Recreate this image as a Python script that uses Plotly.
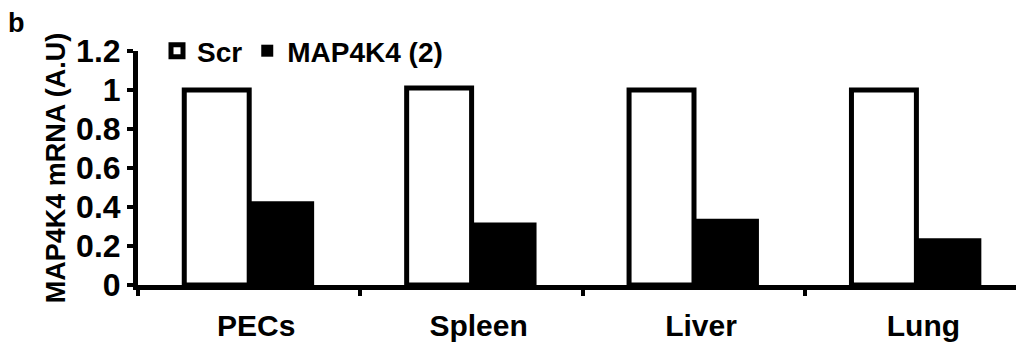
import plotly.graph_objects as go

categories = ["PECs", "Spleen", "Liver", "Lung"]
scr_values = [1.0, 1.01, 1.0, 1.0]
map4k4_values = [0.43, 0.32, 0.34, 0.24]
series_names = ["Scr", "MAP4K4 (2)"]
y_ticks = [0, 0.2, 0.4, 0.6, 0.8, 1, 1.2]
y_tick_text = ["0", "0.2", "0.4", "0.6", "0.8", "1", "1.2"]

FONT = "Arial, 'Liberation Sans', sans-serif"

fig = go.Figure()
fig.add_trace(go.Bar(
    x=categories, y=scr_values, name=series_names[0],
    marker=dict(color="white", line=dict(color="black", width=5)),
))
fig.add_trace(go.Bar(
    x=categories, y=map4k4_values, name=series_names[1],
    marker=dict(color="black", line=dict(color="black", width=0)),
))

W, H = 1016, 345
L, R, T, B = 138, 0, 51, 60

fig.update_layout(
    width=W, height=H,
    margin=dict(l=L, r=R, t=T, b=B, pad=0, autoexpand=False),
    paper_bgcolor="white", plot_bgcolor="white",
    barmode="group", bargap=0.416, bargroupgap=0,
    font=dict(family=FONT, size=28, color="black", weight="bold"),
    title=dict(text="b", x=8 / W, xref="container", xanchor="left",
               y=1 - 23 / H, yref="container", yanchor="middle",
               font=dict(family=FONT, size=27, color="black", weight="bold")),
    showlegend=True,
    legend=dict(orientation="h", x=(157 - L) / (W - L - R), xanchor="left",
                y=1.0, yanchor="middle", bgcolor="rgba(0,0,0,0)",
                font=dict(family=FONT, size=28, color="black", weight="bold"),
                itemwidth=30, tracegroupgap=0, traceorder="normal"),
)

fig.update_xaxes(
    type="category", range=[-0.5, -0.5 + (W - L - R) / 222.4],
    showline=True, linecolor="black", linewidth=5,
    ticks="outside", tickson="boundaries", ticklen=6, tickwidth=4, tickcolor="black",
    ticklabelstandoff=10, ticklabelshift=7,
    tickfont=dict(family=FONT, size=30, color="black", weight="bold"),
    showgrid=False, zeroline=False, fixedrange=True,
)
fig.update_yaxes(
    range=[0, 1.2], tickmode="array", tickvals=y_ticks, ticktext=y_tick_text,
    showline=True, linecolor="black", linewidth=5,
    ticks="outside", ticklen=6, tickwidth=4, tickcolor="black",
    tickfont=dict(family=FONT, size=32, color="black", weight="bold"),
    showgrid=False, zeroline=False,
    title=dict(text="MAP4K4 mRNA (A.U)", standoff=4,
               font=dict(family=FONT, size=27, color="black", weight="bold")),
    fixedrange=True,
)

fig.write_html("out.html", config={"displayModeBar": False},
               post_script="document.body.style.margin='0';")
